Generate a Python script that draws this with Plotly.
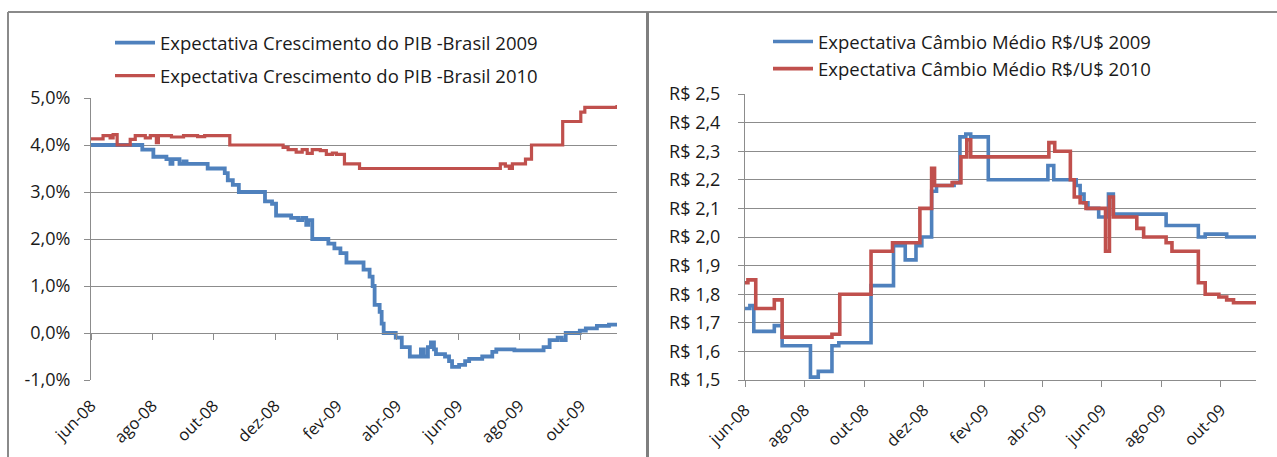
import plotly.graph_objects as go

# ---------------- data ----------------
tick_dates = ["2008-06-01", "2008-08-01", "2008-10-01", "2008-12-01", "2009-02-01",
              "2009-04-01", "2009-06-01", "2009-08-01", "2009-10-01"]
tick_labels = ["jun-08", "ago-08", "out-08", "dez-08", "fev-09", "abr-09", "jun-09", "ago-09", "out-09"]

pib_ticks = [-1, 0, 1, 2, 3, 4, 5]
pib_tick_labels = ["-1,0%", "0,0%", "1,0%", "2,0%", "3,0%", "4,0%", "5,0%"]
cambio_ticks = [1.5, 1.6, 1.7, 1.8, 1.9, 2.0, 2.1, 2.2, 2.3, 2.4, 2.5]
cambio_tick_labels = ["R$ 1,5", "R$ 1,6", "R$ 1,7", "R$ 1,8", "R$ 1,9", "R$ 2,0",
                      "R$ 2,1", "R$ 2,2", "R$ 2,3", "R$ 2,4", "R$ 2,5"]

pib2009_dates = ["2008-06-01", "2008-07-22", "2008-08-02", "2008-08-15", "2008-08-19", "2008-08-21",
                 "2008-08-28", "2008-09-01", "2008-09-04", "2008-09-25", "2008-10-12", "2008-10-15",
                 "2008-10-20", "2008-10-26", "2008-11-21", "2008-11-28", "2008-12-02", "2008-12-17",
                 "2008-12-24", "2008-12-28", "2009-01-01", "2009-01-03", "2009-01-07", "2009-01-23",
                 "2009-01-29", "2009-02-04", "2009-02-10", "2009-02-27", "2009-03-05", "2009-03-08",
                 "2009-03-10", "2009-03-15", "2009-03-17", "2009-03-19", "2009-03-31", "2009-04-06",
                 "2009-04-14", "2009-04-25", "2009-04-28", "2009-05-02", "2009-05-05", "2009-05-08",
                 "2009-05-10", "2009-05-19", "2009-05-23", "2009-05-26", "2009-06-02", "2009-06-08",
                 "2009-06-12", "2009-06-25", "2009-07-05", "2009-07-09", "2009-07-27", "2009-08-25",
                 "2009-08-31", "2009-09-08", "2009-09-12", "2009-09-16", "2009-09-30", "2009-10-06",
                 "2009-10-17", "2009-10-29", "2009-11-06"]
pib2009_values = [4.0, 3.9, 3.75, 3.7, 3.6, 3.7,
                  3.6, 3.65, 3.6, 3.5, 3.4, 3.25,
                  3.15, 3.0, 2.8, 2.75, 2.5, 2.45,
                  2.4, 2.45, 2.3, 2.4, 2.0, 1.9,
                  1.8, 1.7, 1.5, 1.35, 1.2, 1.0,
                  0.6, 0.45, 0.2, 0.0, -0.1, -0.3,
                  -0.5, -0.35, -0.5, -0.3, -0.2, -0.35,
                  -0.45, -0.5, -0.6, -0.72, -0.68, -0.6,
                  -0.55, -0.5, -0.4, -0.35, -0.37, -0.3,
                  -0.15, -0.1, -0.15, 0.0, 0.05, 0.1,
                  0.15, 0.18, 0.2]

pib2010_dates = ["2008-06-01", "2008-06-13", "2008-06-20", "2008-06-23", "2008-06-27", "2008-07-10",
                 "2008-07-15", "2008-07-25", "2008-07-30", "2008-08-05", "2008-08-07", "2008-08-20",
                 "2008-09-01", "2008-09-15", "2008-09-22", "2008-10-17", "2008-12-09", "2008-12-14",
                 "2008-12-22", "2008-12-28", "2009-01-02", "2009-01-07", "2009-01-15", "2009-01-21",
                 "2009-01-27", "2009-01-31", "2009-02-08", "2009-02-23", "2009-07-13", "2009-07-18",
                 "2009-07-22", "2009-07-25", "2009-08-07", "2009-08-13", "2009-09-13", "2009-10-01",
                 "2009-10-05", "2009-11-04", "2009-11-06"]
pib2010_values = [4.13, 4.2, 4.15, 4.22, 4.0, 4.12,
                  4.2, 4.15, 4.2, 4.05, 4.2, 4.17,
                  4.2, 4.18, 4.2, 4.0, 3.95, 3.9,
                  3.85, 3.9, 3.82, 3.9, 3.88, 3.8,
                  3.83, 3.8, 3.6, 3.5, 3.6, 3.55,
                  3.5, 3.6, 3.7, 4.0, 4.5, 4.7,
                  4.8, 4.8, 4.85]

cambio2009_dates = ["2008-06-01", "2008-06-06", "2008-06-10", "2008-07-01", "2008-07-09", "2008-08-07",
                    "2008-08-15", "2008-08-29", "2008-09-05", "2008-10-08", "2008-10-31", "2008-11-12",
                    "2008-11-23", "2008-11-29", "2008-12-09", "2008-12-14", "2009-01-01", "2009-01-07",
                    "2009-01-13", "2009-01-18", "2009-02-05", "2009-04-07", "2009-04-13", "2009-05-06",
                    "2009-05-10", "2009-05-14", "2009-05-18", "2009-05-29", "2009-06-08", "2009-06-13",
                    "2009-08-06", "2009-09-08", "2009-09-15", "2009-10-07", "2009-11-06"]
cambio2009_values = [1.75, 1.76, 1.67, 1.69, 1.62, 1.51,
                     1.53, 1.62, 1.63, 1.83, 1.97, 1.92,
                     1.97, 2.00, 2.16, 2.18, 2.19, 2.35,
                     2.36, 2.35, 2.20, 2.25, 2.20, 2.18,
                     2.15, 2.12, 2.10, 2.07, 2.15, 2.08,
                     2.04, 2.00, 2.01, 2.00, 2.00]

cambio2010_dates = ["2008-06-01", "2008-06-04", "2008-06-12", "2008-07-01", "2008-07-09", "2008-08-29",
                    "2008-09-06", "2008-10-08", "2008-10-30", "2008-11-27", "2008-12-09", "2008-12-12",
                    "2008-12-30", "2009-01-08", "2009-01-14", "2009-01-18", "2009-04-08", "2009-04-14",
                    "2009-04-30", "2009-05-04", "2009-05-10", "2009-05-16", "2009-06-05", "2009-06-09",
                    "2009-06-13", "2009-07-07", "2009-07-14", "2009-08-06", "2009-08-12", "2009-09-08",
                    "2009-09-15", "2009-09-29", "2009-10-07", "2009-10-14", "2009-11-06"]
cambio2010_values = [1.84, 1.85, 1.75, 1.78, 1.65, 1.66,
                     1.80, 1.95, 1.98, 2.10, 2.24, 2.18,
                     2.19, 2.28, 2.34, 2.28, 2.33, 2.30,
                     2.20, 2.14, 2.12, 2.10, 1.95, 2.14,
                     2.07, 2.03, 2.00, 1.98, 1.95, 1.84,
                     1.80, 1.79, 1.78, 1.77, 1.77]

x_range = ["2008-06-01", "2009-11-06"]

# ---------------- styles ----------------
W, H = 1277, 457
BLUE = "#4F81BD"
RED = "#C0504D"
GRID = "#8C8C8C"
TXT = "#1A1A1A"
FONT = "Open Sans"
FS_LEG = 18.5
FS_Y = 18
FS_X = 16.5


def px(v):
    return v / W


def py(v):
    return 1 - v / H


fig = go.Figure()

fig.add_trace(go.Scatter(x=pib2009_dates, y=pib2009_values, mode="lines", line_shape="hv",
                         name="Expectativa Crescimento do PIB -Brasil 2009",
                         line=dict(color=BLUE, width=3.8), xaxis="x", yaxis="y",
                         legend="legend", legendgroup="a"))
fig.add_trace(go.Scatter(x=pib2010_dates, y=pib2010_values, mode="lines", line_shape="hv",
                         name="Expectativa Crescimento do PIB -Brasil 2010",
                         line=dict(color=RED, width=3.2), xaxis="x", yaxis="y",
                         legend="legend", legendgroup="b"))
fig.add_trace(go.Scatter(x=cambio2009_dates, y=cambio2009_values, mode="lines", line_shape="hv",
                         name="Expectativa Câmbio Médio R$/U$ 2009",
                         line=dict(color=BLUE, width=3.6), xaxis="x2", yaxis="y2",
                         legend="legend2", legendgroup="c"))
fig.add_trace(go.Scatter(x=cambio2010_dates, y=cambio2010_values, mode="lines", line_shape="hv",
                         name="Expectativa Câmbio Médio R$/U$ 2010",
                         line=dict(color=RED, width=3.6), xaxis="x2", yaxis="y2",
                         legend="legend2", legendgroup="d"))
# empty trace so the zero-line tick axis of the left chart is drawn
fig.add_trace(go.Scatter(x=[], y=[], xaxis="x3", yaxis="y", showlegend=False, hoverinfo="skip"))

xfont = dict(family=FONT, size=FS_X, color=TXT)
yfont = dict(family=FONT, size=FS_Y, color=TXT)
legfont = dict(family=FONT, size=FS_LEG, color=TXT)

fig.update_layout(
    width=W, height=H,
    margin=dict(l=0, r=0, t=0, b=0),
    paper_bgcolor="white", plot_bgcolor="white",
    font=dict(family=FONT, size=FS_Y, color=TXT),
    xaxis=dict(domain=[px(91), px(617)], anchor="y", type="date", range=x_range,
               tickmode="array", tickvals=tick_dates, ticktext=tick_labels, tickangle=-45,
               tickfont=xfont, showgrid=False, showline=False, ticks="",
               ticklabelstandoff=12, zeroline=False, automargin=False),
    xaxis3=dict(overlaying="x", matches="x", anchor="free", position=py(333), type="date",
                range=x_range, tickmode="array", tickvals=tick_dates, showticklabels=False,
                ticks="outside", ticklen=6, tickcolor=GRID, tickwidth=1,
                showline=True, linecolor=GRID, linewidth=1, showgrid=False, zeroline=False,
                automargin=False),
    yaxis=dict(domain=[py(380), py(98)], anchor="x", range=[-1, 5],
               tickmode="array", tickvals=pib_ticks, ticktext=pib_tick_labels, tickfont=yfont,
               showgrid=True, gridcolor=GRID, gridwidth=1, zeroline=False,
               showline=True, linecolor=GRID, linewidth=1,
               ticks="outside", ticklen=6, tickcolor=GRID, ticklabelstandoff=10,
               automargin=False),
    xaxis2=dict(domain=[px(745), px(1256)], anchor="y2", type="date", range=x_range,
                tickmode="array", tickvals=tick_dates, ticktext=tick_labels, tickangle=-45,
                tickfont=xfont, showgrid=False, showline=True, linecolor=GRID, linewidth=1,
                ticks="outside", ticklen=6, tickcolor=GRID, ticklabelstandoff=7,
                zeroline=False, automargin=False),
    yaxis2=dict(domain=[py(380), py(94)], anchor="x2", range=[1.5, 2.5],
                tickmode="array", tickvals=cambio_ticks, ticktext=cambio_tick_labels,
                tickfont=yfont, showgrid=True, gridcolor=GRID, gridwidth=1, zeroline=False,
                showline=True, linecolor=GRID, linewidth=1,
                ticks="outside", ticklen=6, tickcolor=GRID, ticklabelstandoff=14,
                automargin=False),
    legend=dict(x=px(110), y=py(24), xanchor="left", yanchor="top", bgcolor="rgba(0,0,0,0)",
                font=legfont, tracegroupgap=6, itemwidth=40),
    legend2=dict(x=px(768), y=py(23), xanchor="left", yanchor="top", bgcolor="rgba(0,0,0,0)",
                 font=legfont, tracegroupgap=0, itemwidth=40),
    shapes=[
        dict(type="line", xref="paper", yref="paper", x0=px(8), x1=1.0, y0=py(12), y1=py(12),
             line=dict(color="#8A8A8A", width=2)),
        dict(type="line", xref="paper", yref="paper", x0=px(8), x1=px(8), y0=py(12), y1=0,
             line=dict(color="#8A8A8A", width=2)),
        dict(type="line", xref="paper", yref="paper", x0=px(647.5), x1=px(647.5), y0=py(12), y1=0,
             line=dict(color="#7F7F7F", width=3)),
    ],
)

fig.write_html("out.html")
